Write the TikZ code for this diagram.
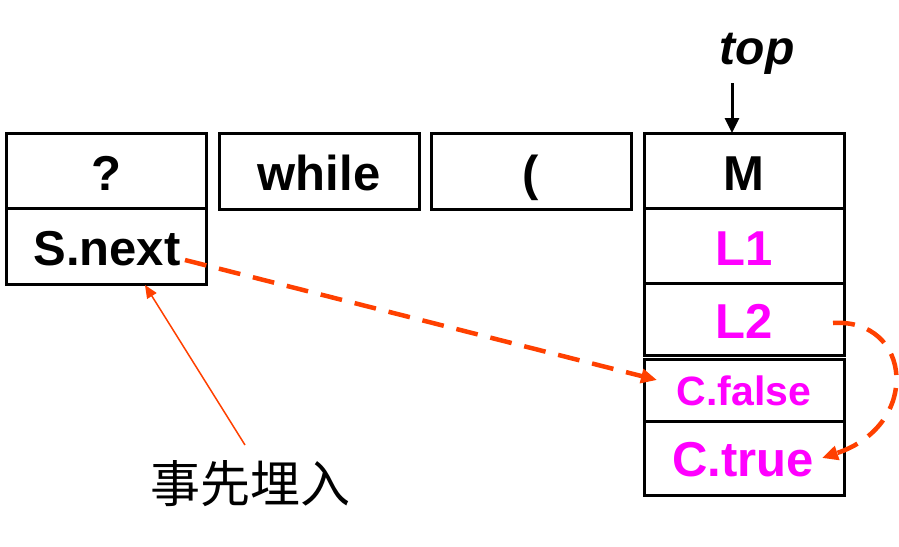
\documentclass[tikz,border=0pt]{standalone}
\usepackage{fontspec}
\setmainfont{Liberation Sans}
\newfontfamily\cjk{Noto Sans CJK SC}
\usetikzlibrary{arrows.meta}
\definecolor{hot}{RGB}{255,64,0}
\definecolor{mag}{RGB}{255,0,255}
\tikzset{
  cell/.style={draw=black, line width=3pt, inner sep=0pt, outer sep=0pt, anchor=north west},
  lbl/.style={anchor=base, inner sep=0pt, font=\fontsize{49}{49}\selectfont\bfseries},
  mlbl/.style={lbl, text=mag},
  dasharrow/.style={draw=hot, line width=4.5pt, dash pattern=on 22pt off 13pt, -{Triangle[length=16pt,width=14pt]}},
}
\begin{document}
\begin{tikzpicture}[x=1pt,y=-1pt]
\useasboundingbox (0,0) rectangle (899,546);
% left column
\node[cell, minimum width=200pt, minimum height=75pt] (q) at (6,133) {};
\node[cell, minimum width=200pt, minimum height=76pt] (sn) at (6,208) {};
\node[cell, minimum width=200pt, minimum height=76pt] (wh) at (219,133) {};
\node[cell, minimum width=200pt, minimum height=76pt] (par) at (431,133) {};
% right column
\node[cell, minimum width=200pt, minimum height=75pt] (m) at (644,133) {};
\node[cell, minimum width=200pt, minimum height=75pt] (l1) at (644,208) {};
\node[cell, minimum width=200pt, minimum height=72pt] (l2) at (644,283) {};
\node[cell, minimum width=200pt, minimum height=62pt] (cf) at (644,359) {};
\node[cell, minimum width=200pt, minimum height=74pt] (ct) at (644,421) {};
% labels
\node[lbl] (tq) at (106,190) {?};
\node[lbl] (tsn) at (107,265) {S.next};
\node[lbl] (twh) at (319,190) {while};
\node[lbl] (tpar) at (531,190) {(};
\node[lbl] (tm) at (744,190) {M};
\node[mlbl] (tl1) at (744,265) {L1};
\node[mlbl] (tl2) at (744,338) {L2};
\node[mlbl, font=\fontsize{41}{41}\selectfont\bfseries] (tcf) at (744,405) {C.false};
\node[mlbl] (tct) at (743,476) {C.true};
\node[lbl, font=\fontsize{48}{48}\selectfont\bfseries\itshape] (top) at (757,64) {top};
\node[anchor=base, inner sep=0pt, font=\cjk\fontsize{50}{50}\selectfont] (note) at (250,502) {事先埋入};
% top pointer
\coordinate (topstart) at (732,83);
\coordinate (mtop) at (732,133);
\draw[line width=3pt, -{Triangle[length=15pt,width=14pt]}] (topstart) -- (mtop);
% dashed arrows
\coordinate (snend) at (185,260);
\coordinate (cfin) at (657,380);
\draw[dasharrow] (snend) -- (cfin);
\coordinate (l2out) at (833,323);
\coordinate (ctin) at (822,458);
\draw[dasharrow] (l2out) .. controls (912,318) and (922,425) .. (ctin);
% note arrow
\coordinate (notetop) at (245,445);
\coordinate (snbottom) at (145,285);
\draw[draw=hot, line width=1.5pt, -{Triangle[length=13pt,width=11pt]}] (notetop) -- (snbottom);
\end{tikzpicture}
\end{document}
